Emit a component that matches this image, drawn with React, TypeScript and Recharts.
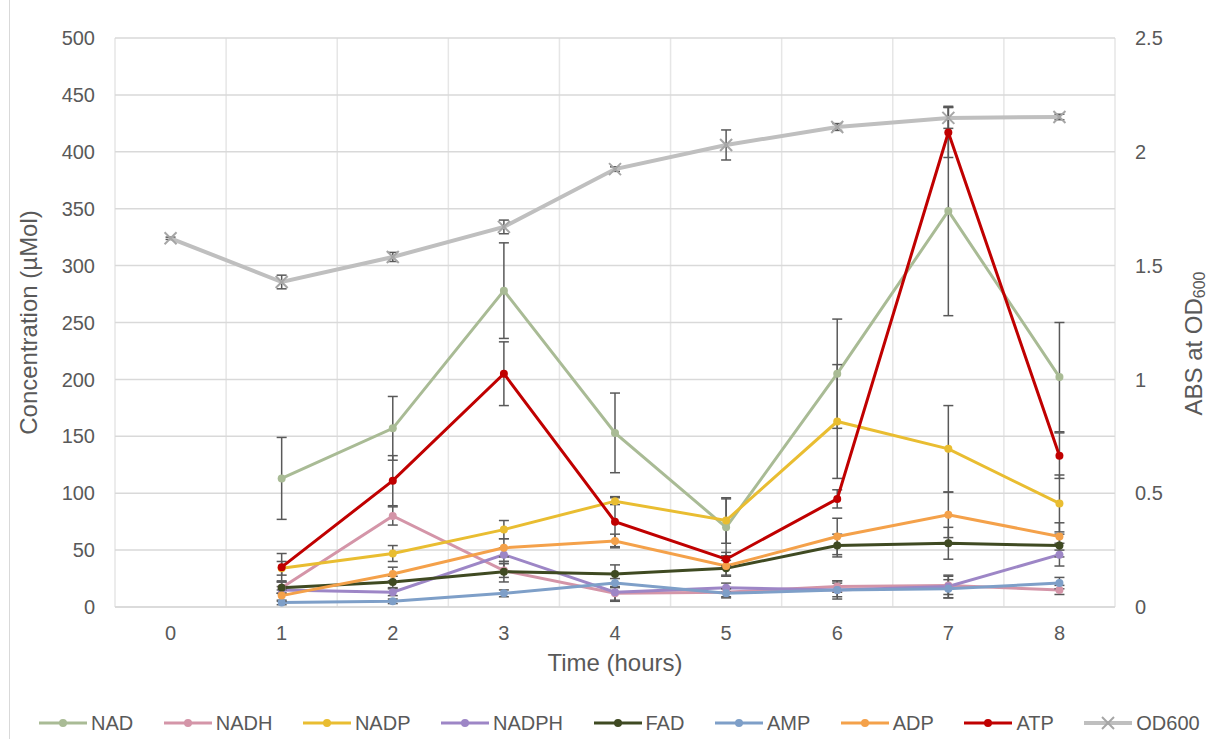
import React from 'react';
import { LineChart, Line, XAxis, YAxis, CartesianGrid, ErrorBar } from 'recharts';

// time points (hours)
const hours = [0, 1, 2, 3, 4, 5, 6, 7, 8];
const gridEdges = [-0.5, 0.5, 1.5, 2.5, 3.5, 4.5, 5.5, 6.5, 7.5, 8.5];
const concTicks = [0, 50, 100, 150, 200, 250, 300, 350, 400, 450, 500];
const absTicks = [0, 0.5, 1, 1.5, 2, 2.5];

// concentrations (µMol) and their error values
const nad = [null, 113, 157, 278, 153, 70, 205, 348, 202];
const nadErr = [null, 36, 28, 42, 35, 25, 48, 92, 48];
const nadh = [null, 17, 80, 32, 12, 13, 18, 19, 15];
const nadhErr = [null, 5, 8, 6, 6, 4, 5, 8, 4];
const nadp = [null, 34, 47, 68, 93, 76, 163, 139, 91];
const nadpErr = [null, 6, 7, 8, 3, 20, 50, 38, 25];
const nadph = [null, 15, 13, 46, 13, 17, 15, 18, 46];
const nadphErr = [null, 3, 3, 6, 8, 4, 6, 10, 10];
const fad = [null, 17, 22, 31, 29, 34, 54, 56, 54];
const fadErr = [null, 5, 5, 9, 8, 7, 10, 14, 10];
const amp = [null, 4, 5, 12, 21, 12, 15, 16, 21];
const ampErr = [null, 2, 2, 3, 4, 4, 8, 8, 5];
const adp = [null, 10, 29, 52, 58, 36, 62, 81, 62];
const adpErr = [null, 5, 6, 8, 6, 8, 16, 20, 12];
const atp = [null, 35, 111, 205, 75, 42, 95, 417, 133];
const atpErr = [null, 12, 22, 28, 22, 6, 8, 22, 20];

// OD600 absorbance
const od600 = [1.62, 1.428, 1.538, 1.67, 1.924, 2.03, 2.109, 2.149, 2.153];
const od600Err = [0.005, 0.03, 0.02, 0.03, 0.01, 0.066, 0.015, 0.046, 0.012];

const series = [
  { key: 'NAD', color: '#a9bb95', values: nad, errors: nadErr },
  { key: 'NADH', color: '#d495a8', values: nadh, errors: nadhErr },
  { key: 'NADP', color: '#e9bd31', values: nadp, errors: nadpErr },
  { key: 'NADPH', color: '#9d86c6', values: nadph, errors: nadphErr },
  { key: 'FAD', color: '#3f4a22', values: fad, errors: fadErr },
  { key: 'AMP', color: '#7e9fc8', values: amp, errors: ampErr },
  { key: 'ADP', color: '#f4a14a', values: adp, errors: adpErr },
  { key: 'ATP', color: '#c00000', values: atp, errors: atpErr },
];

const data = hours.map((t, i) => {
  const row: Record<string, number | null> = { t, OD600: od600[i], OD600_err: od600Err[i] };
  series.forEach(s => {
    row[s.key] = s.values[i];
    row[s.key + '_err'] = s.errors[i];
  });
  return row;
});

const FONT = '"Liberation Sans", Arial, sans-serif';
const TEXT = '#595959';
const OD_COLOR = '#bfbfbf';

const CrossDot = (props: any) => {
  const { cx, cy, index } = props;
  if (cx == null || cy == null) return <g key={'x' + index} />;
  const s = 6;
  return (
    <g key={'x' + index} stroke="#a6a6a6" strokeWidth={2}>
      <line x1={cx - s} y1={cy - s} x2={cx + s} y2={cy + s} />
      <line x1={cx - s} y1={cy + s} x2={cx + s} y2={cy - s} />
    </g>
  );
};

function LegendRow() {
  const items = [...series.map(s => ({ key: s.key, color: s.color })), { key: 'OD600', color: OD_COLOR }];
  return (
    <div style={{ position: 'absolute', left: 39, top: 711, display: 'flex', alignItems: 'center', gap: 30.5, fontFamily: FONT, fontSize: 20, color: TEXT, lineHeight: '24px' }}>
      {items.map(it => (
        <div key={it.key} style={{ display: 'flex', alignItems: 'center', gap: 4 }}>
          <svg width={48} height={14}>
            <line x1={0} y1={7} x2={48} y2={7} stroke={it.color} strokeWidth={it.key === 'OD600' ? 4 : 3} />
            {it.key === 'OD600' ? (
              <g stroke="#a6a6a6" strokeWidth={2}>
                <line x1={18} y1={1} x2={30} y2={13} />
                <line x1={18} y1={13} x2={30} y2={1} />
              </g>
            ) : (
              <circle cx={24} cy={7} r={4} fill={it.color} />
            )}
          </svg>
          <span>{it.key}</span>
        </div>
      ))}
    </div>
  );
}

export default function App() {
  return (
    <div style={{ position: 'absolute', left: 0, top: 0, width: 1210, height: 739, background: '#fff', overflow: 'hidden' }}>
      <div style={{ position: 'absolute', left: 9, top: 0, width: 1, height: 739, background: '#d9d9d9' }} />
      <LineChart width={1210} height={739} data={data} margin={{ top: 38, right: 0, bottom: 62, left: 0 }}>
        <CartesianGrid xAxisId="grid" yAxisId="left" horizontal={false} stroke="#e6e6e6" strokeWidth={1.5} />
        <CartesianGrid xAxisId="main" yAxisId="left" vertical={false} stroke="#d9d9d9" strokeWidth={1.5} />
        <XAxis xAxisId="grid" type="number" dataKey="t" domain={[-0.5, 8.5]} ticks={gridEdges} height={0} hide />
        <XAxis
          xAxisId="main"
          type="number"
          dataKey="t"
          domain={[-0.5, 8.5]}
          ticks={hours}
          interval={0}
          height={70}
          tickSize={0}
          tickMargin={19}
          tickLine={false}
          axisLine={{ stroke: '#d9d9d9', strokeWidth: 1.5 }}
          tick={{ fill: TEXT, fontSize: 20, fontFamily: FONT }}
          label={{
            content: (p: any) => (
              <text x={p.viewBox.x + p.viewBox.width / 2} y={p.viewBox.y + 64} textAnchor="middle" fill={TEXT} fontSize={24} fontFamily={FONT}>
                Time (hours)
              </text>
            ),
          }}
        />
        <YAxis
          yAxisId="left"
          domain={[0, 500]}
          ticks={concTicks}
          width={115}
          tickSize={0}
          tickMargin={20}
          tickLine={false}
          axisLine={false}
          tick={{ fill: TEXT, fontSize: 20, fontFamily: FONT }}
          label={{
            content: (p: any) => {
              const cy = p.viewBox.y + p.viewBox.height / 2;
              return (
                <text x={28} y={cy} transform={`rotate(-90 28 ${cy})`} textAnchor="middle" dominantBaseline="central" fill={TEXT} fontSize={24} fontFamily={FONT}>
                  Concentration (µMol)
                </text>
              );
            },
          }}
        />
        <YAxis
          yAxisId="right"
          orientation="right"
          domain={[0, 2.5]}
          ticks={absTicks}
          width={95}
          tickSize={0}
          tickMargin={20}
          tickLine={false}
          axisLine={false}
          tick={{ fill: TEXT, fontSize: 20, fontFamily: FONT }}
          label={{
            content: (p: any) => {
              const cy = p.viewBox.y + p.viewBox.height / 2 + 21;
              return (
                <text x={1193} y={cy} transform={`rotate(-90 1193 ${cy})`} textAnchor="middle" dominantBaseline="central" fill={TEXT} fontSize={24} fontFamily={FONT}>
                  ABS at OD<tspan fontSize={16} dy={6}>600</tspan>
                </text>
              );
            },
          }}
        />
        {series.map(s => (
          <Line
            key={s.key}
            xAxisId="main"
            yAxisId="left"
            dataKey={s.key}
            stroke={s.color}
            strokeWidth={3}
            dot={{ r: 4, fill: s.color, stroke: s.color, strokeWidth: 0 }}
            activeDot={false}
            isAnimationActive={false}
          >
            <ErrorBar dataKey={s.key + '_err'} direction="y" width={5} stroke="#595959" strokeWidth={1.5} />
          </Line>
        ))}
        <Line
          xAxisId="main"
          yAxisId="right"
          dataKey="OD600"
          stroke={OD_COLOR}
          strokeWidth={4}
          dot={CrossDot}
          activeDot={false}
          isAnimationActive={false}
        >
          <ErrorBar dataKey="OD600_err" direction="y" width={5} stroke="#595959" strokeWidth={1.5} />
        </Line>
      </LineChart>
      <LegendRow />
    </div>
  );
}
